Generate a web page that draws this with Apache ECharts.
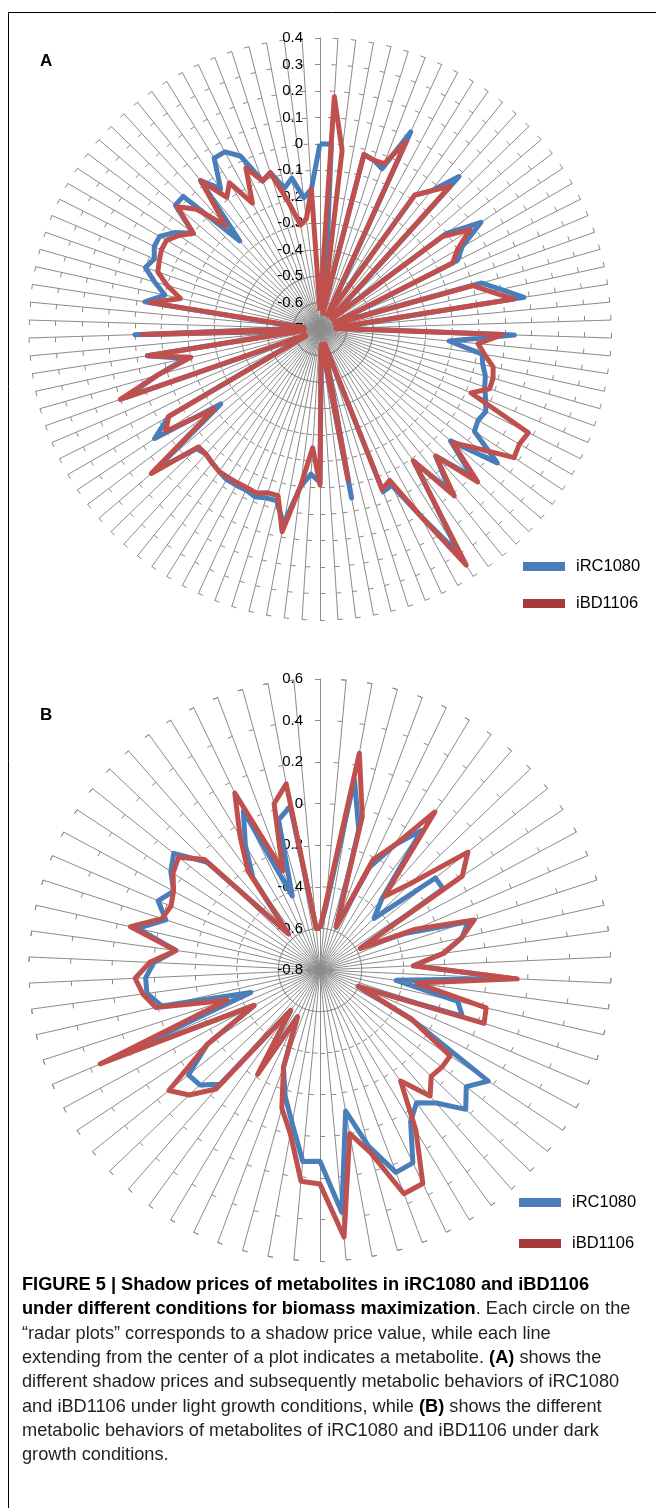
<!DOCTYPE html>
<html><head><meta charset="utf-8">
<script src="https://cdn.jsdelivr.net/npm/echarts@6/dist/echarts.min.js"></script>
<style>html,body{margin:0;padding:0;background:#fff}#c{width:656px;height:1508px}</style>
</head><body><div id="c"></div>
<script>
// ---------- data ----------
const seriesNames = ['iRC1080', 'iBD1106'];
const ticksA = [-0.7, -0.6, -0.5, -0.4, -0.3, -0.2, -0.1, 0, 0.1, 0.2, 0.3, 0.4];
const ticksB = [-0.8, -0.6, -0.4, -0.2, 0, 0.2, 0.4, 0.6];

// Panel A (light), metabolites clockwise from top
const aRC = [0.0,0.0,-0.53,-0.62,-0.02,-0.03,-0.05,0.12,-0.62,-0.6,-0.08,-0.03,0.08,-0.62,-0.62,-0.1,0.03,-0.08,-0.12,-0.62,
 -0.62,-0.065,0.0,0.08,-0.62,-0.62,0.035,-0.21,-0.08,-0.07,-0.05,-0.04,-0.02,0.0,-0.01,0.0,0.14,-0.05,0.1,-0.05,
 0.08,-0.08,0.3,0.1,-0.05,-0.04,-0.62,-0.62,-0.05,-0.62,-0.62,-0.12,-0.15,-0.1,0.05,-0.03,-0.03,-0.02,-0.03,-0.03,
 -0.03,-0.04,-0.05,-0.06,-0.05,0.12,-0.23,0.05,-0.04,-0.62,-0.62,0.08,-0.06,-0.18,-0.04,-0.62,0.0,-0.62,-0.62,-0.03,
 -0.1,-0.05,0.0,-0.02,0.0,0.0,-0.04,-0.1,0.02,0.02,-0.25,0.02,-0.05,0.06,0.06,0.02,-0.1,-0.08,-0.15,-0.12,
 -0.2,-0.17];
const aBD = [-0.63,0.18,-0.02,-0.64,-0.02,-0.03,-0.03,0.08,-0.64,-0.62,-0.08,-0.03,0.03,-0.64,-0.64,-0.12,-0.02,-0.1,-0.14,-0.64,
 -0.64,-0.1,-0.04,0.04,-0.64,-0.64,-0.01,-0.1,-0.07,-0.03,-0.02,-0.02,-0.08,0.18,0.17,0.18,0.05,-0.04,0.13,-0.05,
 0.11,-0.09,0.35,0.1,-0.07,-0.05,-0.64,-0.64,-0.12,-0.64,-0.64,-0.11,-0.25,-0.1,0.08,-0.05,-0.05,-0.035,-0.04,-0.04,
 -0.04,-0.04,-0.05,-0.06,-0.06,0.14,-0.2,0.0,-0.04,-0.64,-0.64,0.1,-0.06,-0.2,-0.04,-0.64,-0.03,-0.64,-0.64,-0.05,
 -0.16,-0.1,-0.05,-0.04,-0.03,-0.03,-0.06,-0.1,0.01,-0.05,-0.17,0.02,-0.09,-0.05,-0.16,-0.03,-0.1,-0.08,-0.2,-0.3,
 -0.28,-0.17];

// Panel B (dark)
const bRC = [-0.6,-0.5,0.13,-0.1,-0.58,-0.25,-0.1,0.03,-0.35,-0.44,-0.09,-0.09,-0.58,-0.35,-0.05,-0.1,-0.2,-0.35,0.12,-0.43,
 -0.12,-0.08,-0.6,-0.3,0.17,0.1,0.17,0.05,-0.01,0.05,0.23,0.24,0.08,-0.11,0.37,0.12,0.125,-0.05,-0.17,-0.3,
 -0.55,-0.25,-0.56,-0.07,0.0,0.01,-0.15,-0.44,0.3,-0.45,-0.02,0.04,0.04,0.0,-0.1,0.1,-0.02,0.047,0.0,0.06,
 0.1,-0.05,-0.57,-0.25,-0.1,0.05,-0.42,-0.05,0.0,-0.6];
const bBD = [-0.6,-0.47,0.26,-0.035,-0.58,-0.21,-0.1,0.14,-0.33,-0.2,0.11,0.02,-0.58,-0.3,-0.02,-0.1,-0.2,-0.35,0.15,-0.33,
 0.02,0.03,-0.6,-0.3,-0.05,-0.05,-0.06,0.005,-0.14,0.1,0.34,0.35,0.11,0.0,0.49,0.23,0.22,0.0,-0.11,-0.3,
 -0.55,-0.215,-0.56,-0.04,0.07,0.13,-0.15,-0.44,0.35,-0.33,0.01,0.06,0.09,0.02,-0.1,0.135,0.0,-0.02,0.0,0.047,
 0.07,-0.03,-0.57,-0.21,-0.05,0.145,-0.29,0.03,0.11,-0.6];

const colors = { rc: '#4a7ebb', bd: '#c0504d', bdLegend: '#a33b38' };
const gridColor = '#8c8c8c';
const font = 'Liberation Sans';

// ECharts radar places indicators counter-clockwise; the source plots run clockwise.
function clockwise(arr) { return [arr[0]].concat(arr.slice(1).reverse()); }

function indicators(n, ticks) {
  const out = [];
  for (let i = 0; i < n; i++) {
    const ind = { name: '', min: ticks[0], max: ticks[ticks.length - 1] };
    if (i === 0) {
      ind.axisLabel = { show: true, color: '#000', fontSize: 15, fontFamily: font, margin: 17,
        formatter: function (v) { return String(Math.round(v * 10) / 10); } };
    }
    out.push(ind);
  }
  return out;
}

function radarCfg(center, n, ticks) {
  return {
    center: center, radius: 291, startAngle: 90, shape: 'circle',
    splitNumber: ticks.length - 1,
    indicator: indicators(n, ticks),
    axisName: { show: false },
    splitLine: { show: false }, splitArea: { show: false },
    axisLine: { lineStyle: { color: gridColor, width: 1 } },
    axisTick: { show: true, length: 5, lineStyle: { color: gridColor, width: 1 } },
    axisLabel: { show: false }
  };
}

function radarSeries(idx, rc, bd) {
  return {
    type: 'radar', radarIndex: idx, symbol: 'none', silent: true,
    data: [
      { name: seriesNames[0], value: clockwise(rc),
        lineStyle: { color: colors.rc, width: 5, join: 'round' }, itemStyle: { color: colors.rc } },
      { name: seriesNames[1], value: clockwise(bd),
        lineStyle: { color: colors.bd, width: 5, join: 'round' }, itemStyle: { color: colors.bd } }
    ]
  };
}

function legendCfg(left, top, gap) {
  return {
    left: left, top: top, orient: 'vertical', icon: 'rect',
    itemWidth: 42, itemHeight: 9, itemGap: gap, selectedMode: false,
    textStyle: { fontSize: 16.5, color: '#000', fontFamily: font, padding: [0, 0, 0, 6] },
    data: [
      { name: seriesNames[0], itemStyle: { color: colors.rc, borderWidth: 0 } },
      { name: seriesNames[1], itemStyle: { color: colors.bdLegend, borderWidth: 0 } }
    ]
  };
}

const caption = [
  [['b', 'FIGURE 5 | Shadow prices of metabolites in iRC1080 and iBD1106']],
  [['b', 'under different conditions for biomass maximization'], ['n', '. Each circle on the']],
  [['n', '\u201Cradar plots\u201D corresponds to a shadow price value, while each line']],
  [['n', 'extending from the center of a plot indicates a metabolite. '], ['b', '(A)'], ['n', ' shows the']],
  [['n', 'different shadow prices and subsequently metabolic behaviors of iRC1080']],
  [['n', 'and iBD1106 under light growth conditions, while '], ['b', '(B)'], ['n', ' shows the different']],
  [['n', 'metabolic behaviors of metabolites of iRC1080 and iBD1106 under dark']],
  [['n', 'growth conditions.']]
];

const graphics = [
  { type: 'line', shape: { x1: 8.5, y1: 12.5, x2: 656, y2: 12.5 }, style: { stroke: '#000', lineWidth: 1 } },
  { type: 'line', shape: { x1: 8.5, y1: 12.5, x2: 8.5, y2: 1508 }, style: { stroke: '#000', lineWidth: 1 } },
  { type: 'text', x: 40, y: 53, style: { text: 'A', font: 'bold 17px ' + font, fill: '#000' } },
  { type: 'text', x: 40, y: 707, style: { text: 'B', font: 'bold 17px ' + font, fill: '#000' } }
];
caption.forEach(function (line, i) {
  graphics.push({
    type: 'text', x: 22, y: 1285 + i * 24.3,
    style: {
      text: line.map(function (s) { return '{' + s[0] + '|' + s[1] + '}'; }).join(''),
      verticalAlign: 'middle',
      rich: {
        b: { fontFamily: font, fontSize: 18.2, fontWeight: 'bold', fill: '#000' },
        n: { fontFamily: font, fontSize: 18.2, fill: '#231f20' }
      }
    }
  });
});

const chart = echarts.init(document.getElementById('c'), null, { renderer: 'canvas' });
chart.setOption({
  animation: false,
  backgroundColor: '#fff',
  radar: [radarCfg([320, 329], aRC.length, ticksA), radarCfg([320, 970], bRC.length, ticksB)],
  legend: [legendCfg(518, 553, 20), legendCfg(514, 1189, 24)],
  series: [radarSeries(0, aRC, aBD), radarSeries(1, bRC, bBD)],
  graphic: graphics
});
</script></body></html>
